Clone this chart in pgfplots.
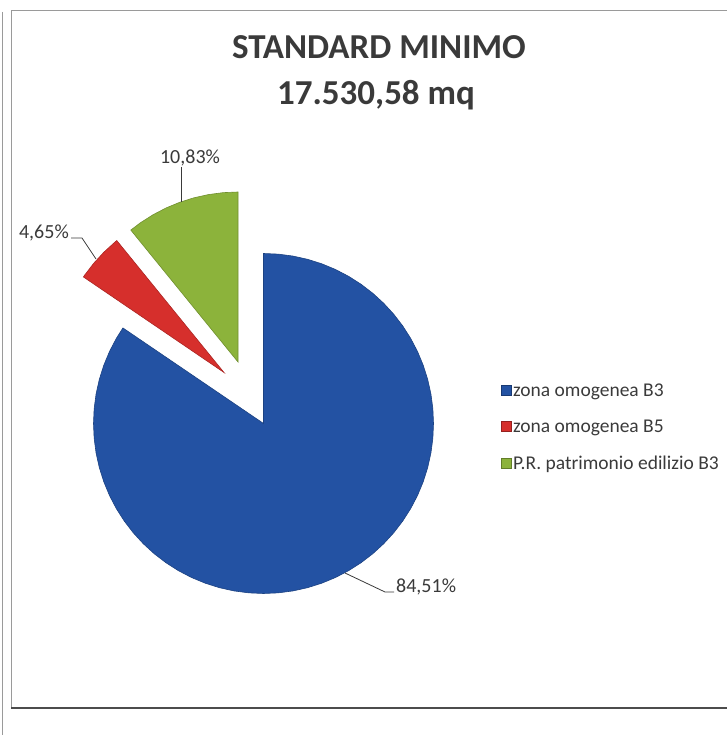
\documentclass[border=0pt]{standalone}
\usepackage{pgfplots}
\pgfplotsset{compat=1.18}
\usepackage{fontspec}
\setmainfont{Carlito}
\definecolor{pieblue}{HTML}{2352A3}
\definecolor{piered}{HTML}{D62F2C}
\definecolor{piegreen}{HTML}{8CB33B}
\definecolor{txt}{HTML}{3A3A3A}
\definecolor{frame}{HTML}{9A9A9A}
\begin{document}
\begin{tikzpicture}
\path[use as bounding box] (0,0) rectangle (727bp,735bp);
\clip (0,0) rectangle (727bp,735bp);
\begin{axis}[at={(0,0)}, anchor=south west,
  width=727bp, height=735bp, scale only axis,
  xmin=0, xmax=727, ymin=0, ymax=735,
  hide axis, clip=false,
  legend image code/.code={\draw[#1] (0bp,1bp) rectangle (10bp,11bp);},
  legend style={at={(axis cs:501,354)}, anchor=north west, draw=none, fill=none,
    inner sep=0pt, column sep=1.5bp, row sep=16bp,
    font=\fontsize{19.5bp}{23bp}\selectfont, text=txt,
    nodes={inner sep=0pt, text height=15bp, text depth=5.5bp, anchor=base west}},
  legend cell align=left]
% zona omogenea B3 : 84,51 %  (from 90 deg clockwise to 145.8 deg)
\addplot[forget plot, fill=pieblue, draw=pieblue!80!black, line width=0.6bp,
  data cs=polar, shift={(263.5bp,311.5bp)}] coordinates {
(0,0) (145.8,170) (150,170) (155,170) (160,170) (165,170) (170,170) (175,170)
(180,170) (185,170) (190,170) (195,170) (200,170) (205,170) (210,170) (215,170)
(220,170) (225,170) (230,170) (235,170) (240,170) (245,170) (250,170) (255,170)
(260,170) (265,170) (270,170) (275,170) (280,170) (285,170) (290,170) (295,170)
(300,170) (305,170) (310,170) (315,170) (320,170) (325,170) (330,170) (335,170)
(340,170) (345,170) (350,170) (355,170) (360,170) (365,170) (370,170) (375,170)
(380,170) (385,170) (390,170) (395,170) (400,170) (405,170) (410,170) (415,170)
(420,170) (425,170) (430,170) (435,170) (440,170) (445,170) (450,170) (0,0)
} -- cycle;
% zona omogenea B5 : 4,65 %
\addplot[forget plot, fill=piered, draw=piered!80!black, line width=0.6bp,
  data cs=polar, shift={(224bp,362.5bp)}] coordinates {
(0,0) (129.1,170) (130,170) (135,170) (140,170) (145,170) (145.8,170) (0,0)
} -- cycle;
% P.R. patrimonio edilizio B3 : 10,83 %
\addplot[forget plot, fill=piegreen, draw=piegreen!80!black, line width=0.6bp,
  data cs=polar, shift={(238bp,373bp)}] coordinates {
(0,0) (90,170) (95,170) (100,170) (105,170) (110,170) (115,170) (120,170)
(125,170) (129.1,170) (0,0)
} -- cycle;
\addlegendimage{fill=pieblue, draw=pieblue!70!black}
\addlegendentry{zona omogenea B3}
\addlegendimage{fill=piered, draw=piered!70!black}
\addlegendentry{zona omogenea B5}
\addlegendimage{fill=piegreen, draw=piegreen!70!black}
\addlegendentry{P.R. patrimonio edilizio B3}
% leader lines
\draw[txt, line width=0.8bp] (axis cs:181,568) -- (axis cs:181,533);
\draw[txt, line width=0.8bp] (axis cs:71,497) -- (axis cs:82,497) -- (axis cs:96,476);
\draw[txt, line width=0.8bp] (axis cs:345,162) -- (axis cs:385,143) -- (axis cs:394,143);
% data labels
\node[text=txt, font=\fontsize{20bp}{23bp}\selectfont, inner sep=0pt] at (axis cs:190,577) {10,83\%};
\node[text=txt, font=\fontsize{20bp}{23bp}\selectfont, inner sep=0pt, anchor=east] at (axis cs:69,502) {4,65\%};
\node[text=txt, font=\fontsize{20bp}{23bp}\selectfont, inner sep=0pt, anchor=west] at (axis cs:396,148) {84,51\%};
% title
\node[text=txt, font=\fontsize{35bp}{42bp}\selectfont\bfseries, inner sep=0pt] at (axis cs:379,688) {STANDARD MINIMO};
\node[text=txt, font=\fontsize{35bp}{42bp}\selectfont\bfseries, inner sep=0pt] at (axis cs:376,640) {17.530,58 mq};
% chart frame
\draw[frame, line width=1bp] (axis cs:740,724) -- (axis cs:11,724) -- (axis cs:11,27);
\draw[black!70, line width=2bp] (axis cs:11,27) -- (axis cs:740,27);
\draw[frame, line width=1bp] (axis cs:2.5,723) -- (axis cs:2.5,0);
\end{axis}
\end{tikzpicture}
\end{document}
